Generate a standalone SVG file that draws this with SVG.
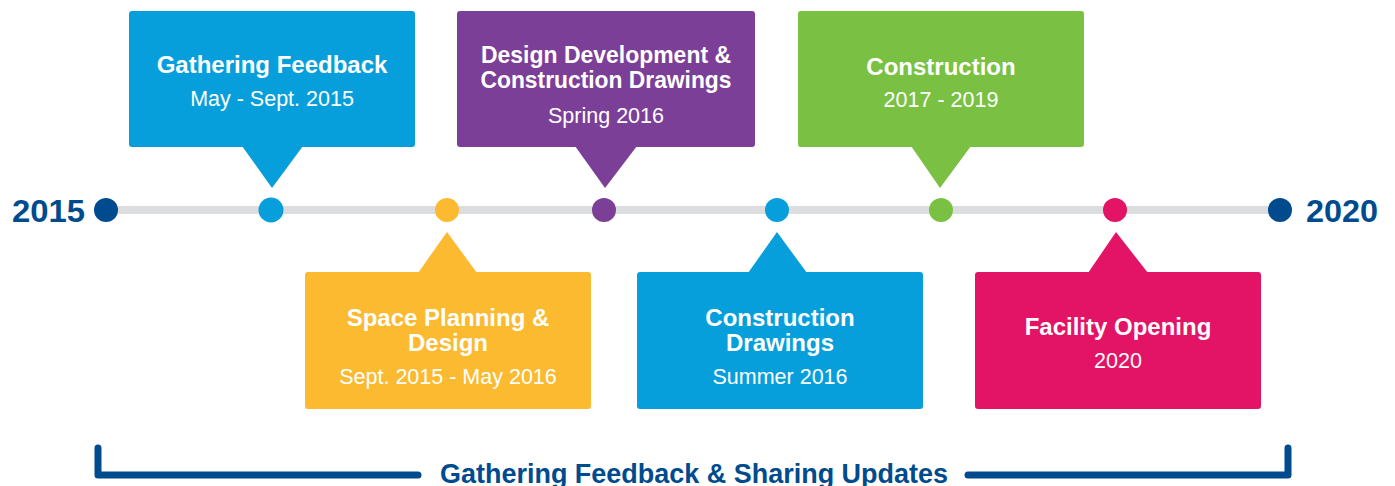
<svg xmlns="http://www.w3.org/2000/svg" width="1395" height="486" viewBox="0 0 1395 486">
<style>
.t{font-family:"Liberation Sans",Arial,sans-serif;fill:#fff;text-anchor:middle}
.b{font-weight:bold;font-size:24px}
.r{font-size:21.5px}
.yr{font-family:"Liberation Sans",Arial,sans-serif;font-weight:bold;font-size:31px;fill:#004b8d}
.blue{fill:#079fdb}.yel{fill:#fbba30}.pur{fill:#7c3f98}.grn{fill:#7ac143}.pink{fill:#e31365}.navy{fill:#004b8d}
</style>
<rect width="1395" height="486" fill="#fff"/>
<g id="connectors">
<line x1="106" y1="210" x2="1280" y2="210" stroke="#dcdddf" stroke-width="8"/>
<path d="M98 448 V475 H418" fill="none" stroke="#004b8d" stroke-width="7" stroke-linecap="round" stroke-linejoin="round"/>
<path d="M968 475 H1288 V448" fill="none" stroke="#004b8d" stroke-width="7" stroke-linecap="round" stroke-linejoin="round"/>
</g>
<g id="start">
<circle class="navy" cx="106" cy="210" r="12"/>
<text class="yr" x="85" y="222" text-anchor="end" textLength="73" lengthAdjust="spacingAndGlyphs">2015</text>
</g>
<g id="end">
<circle class="navy" cx="1280" cy="210" r="12"/>
<text class="yr" x="1306" y="222" textLength="72" lengthAdjust="spacingAndGlyphs">2020</text>
</g>
<g id="gathering">
<circle class="blue" cx="271" cy="210" r="12.5"/>
<rect class="blue" x="129" y="11" width="286" height="136" rx="3"/>
<path class="blue" d="M242 146 L303 146 L272 188 Z"/>
<text class="t b" x="272" y="73">Gathering Feedback</text>
<text class="t r" x="272" y="106">May - Sept. 2015</text>
</g>
<g id="space">
<circle class="yel" cx="447" cy="210" r="12"/>
<rect class="yel" x="305" y="272" width="286" height="137" rx="3"/>
<path class="yel" d="M418 273 L477 273 L447 232 Z"/>
<text class="t b" x="448" y="326">Space Planning &amp;</text>
<text class="t b" x="448" y="351">Design</text>
<text class="t r" x="448" y="384">Sept. 2015 - May 2016</text>
</g>
<g id="design">
<circle class="pur" cx="604" cy="210" r="12"/>
<rect class="pur" x="457" y="11" width="298" height="136" rx="3"/>
<path class="pur" d="M575 146 L637 146 L605 188 Z"/>
<text class="t b" x="606" y="63" textLength="250" lengthAdjust="spacingAndGlyphs">Design Development &amp;</text>
<text class="t b" x="606" y="88" textLength="251" lengthAdjust="spacingAndGlyphs">Construction Drawings</text>
<text class="t r" x="606" y="123">Spring 2016</text>
</g>
<g id="drawings">
<circle class="blue" cx="777" cy="210" r="12"/>
<rect class="blue" x="637" y="272" width="286" height="137" rx="3"/>
<path class="blue" d="M748 273 L807 273 L777 232 Z"/>
<text class="t b" x="780" y="326">Construction</text>
<text class="t b" x="780" y="351">Drawings</text>
<text class="t r" x="780" y="384">Summer 2016</text>
</g>
<g id="construction">
<circle class="grn" cx="941" cy="210" r="12"/>
<rect class="grn" x="798" y="11" width="286" height="136" rx="3"/>
<path class="grn" d="M911 146 L971 146 L940 188 Z"/>
<text class="t b" x="941" y="75">Construction</text>
<text class="t r" x="941" y="107">2017 - 2019</text>
</g>
<g id="opening">
<circle class="pink" cx="1115" cy="210" r="12"/>
<rect class="pink" x="975" y="272" width="286" height="137" rx="3"/>
<path class="pink" d="M1088 273 L1148 273 L1116 232 Z"/>
<text class="t b" x="1118" y="335">Facility Opening</text>
<text class="t r" x="1118" y="368">2020</text>
</g>
<g id="bracket-label">
<text x="694" y="483" text-anchor="middle" font-family="'Liberation Sans',Arial,sans-serif" font-weight="bold" font-size="27px" fill="#004b8d" textLength="508" lengthAdjust="spacingAndGlyphs">Gathering Feedback &amp; Sharing Updates</text>
</g>
</svg>
